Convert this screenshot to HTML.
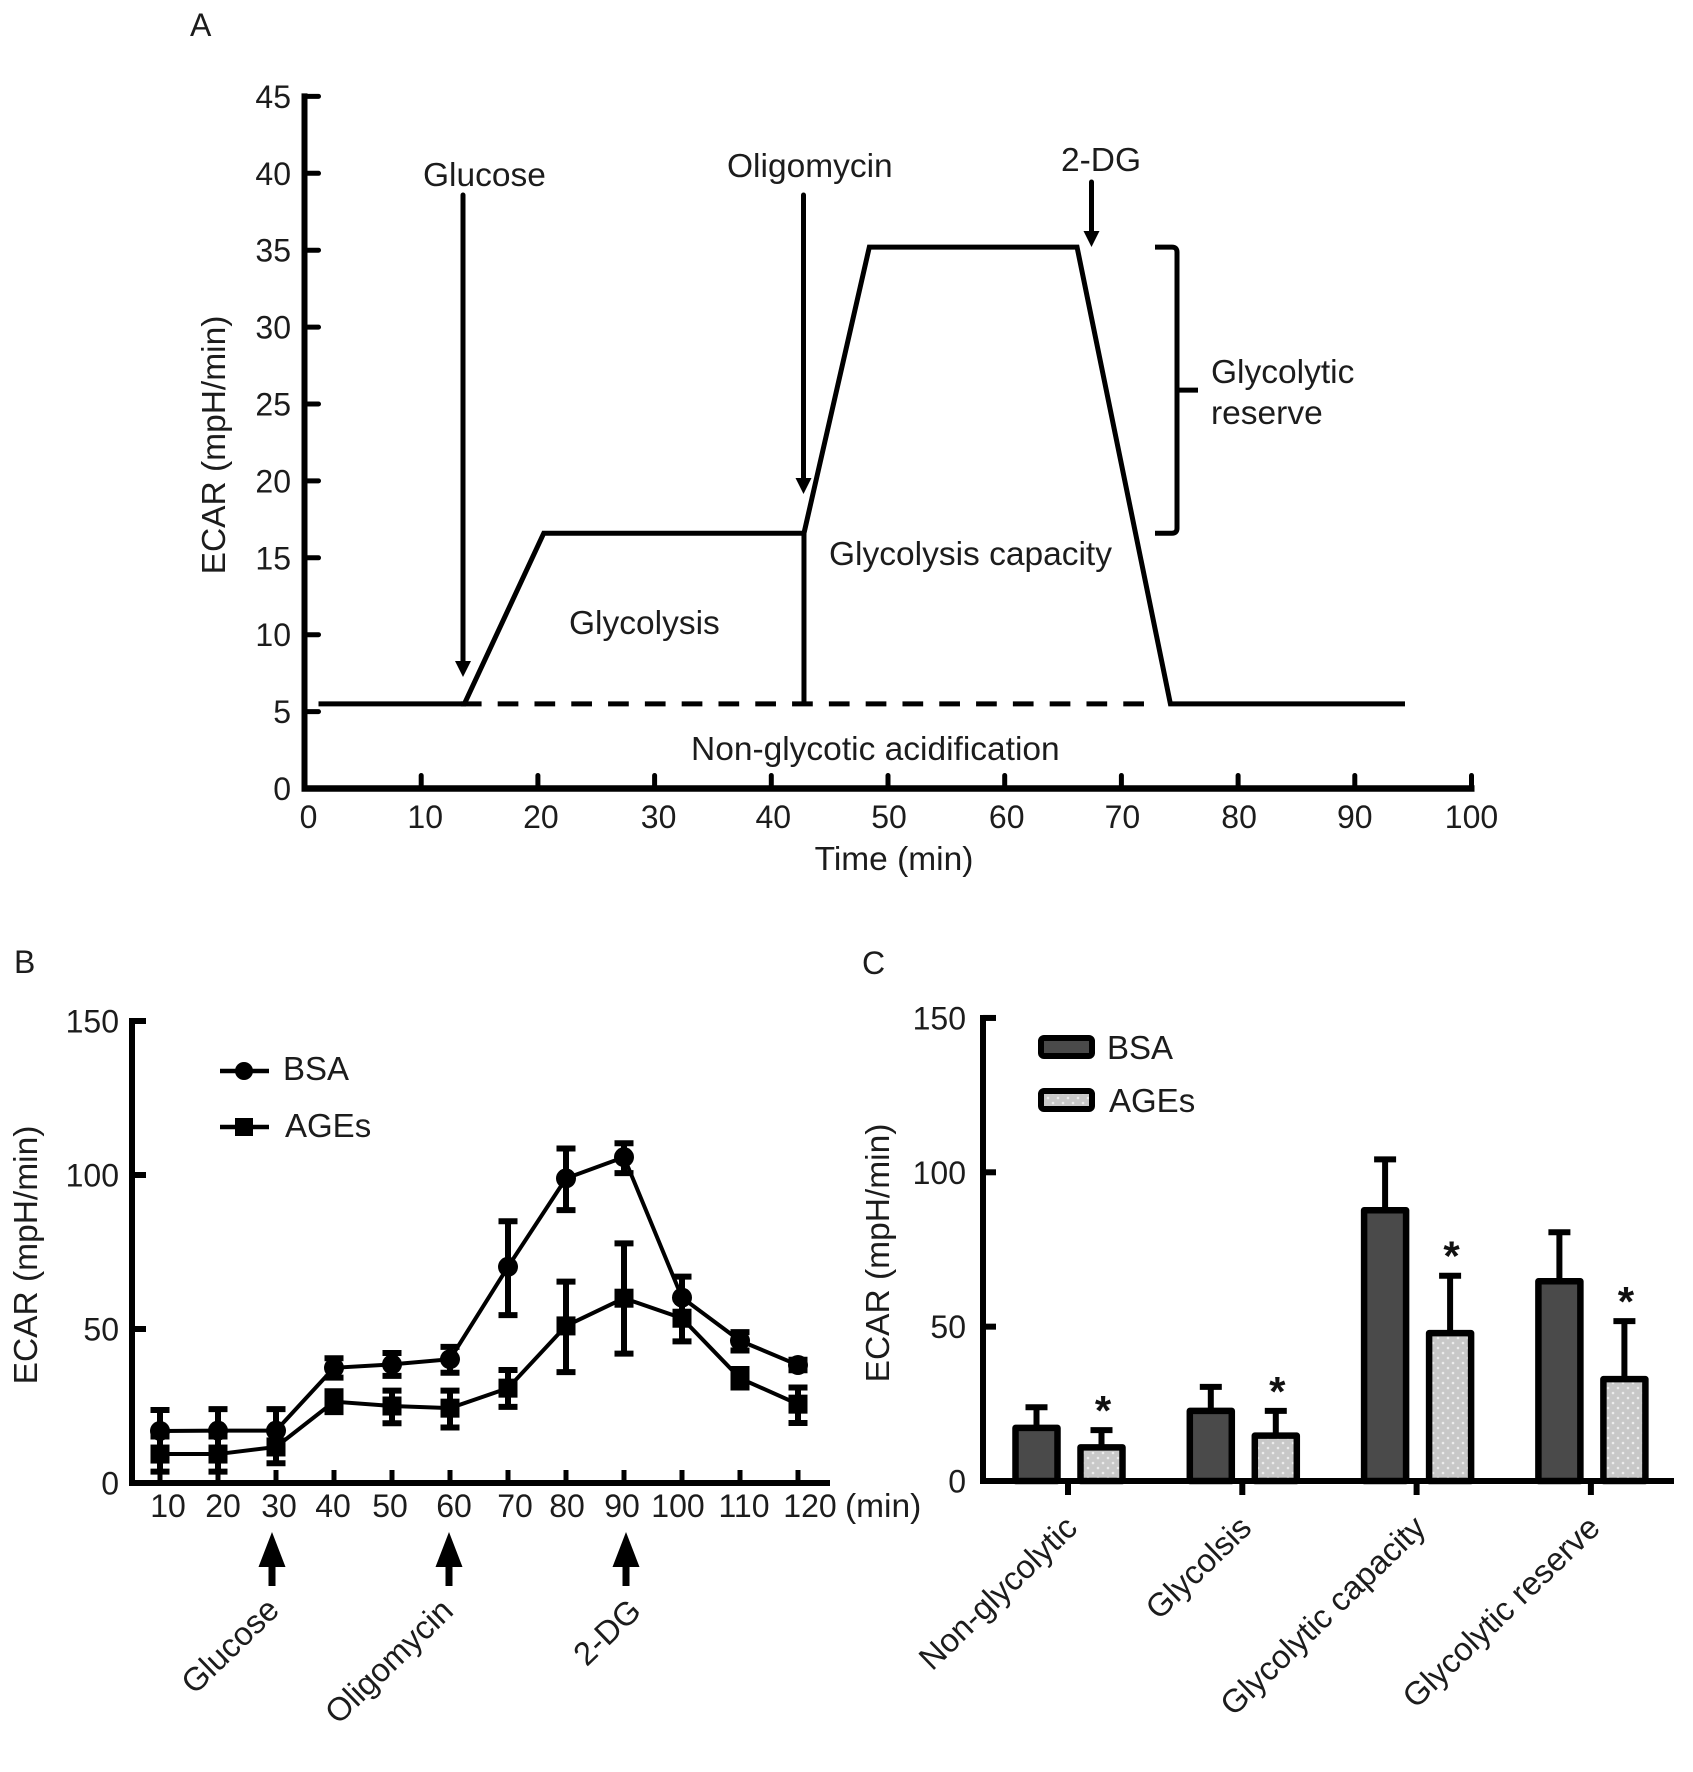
<!DOCTYPE html>
<html lang="en">
<head>
<meta charset="utf-8">
<title>ECAR glycolysis stress test figure</title>
<style>
  html, body { margin: 0; padding: 0; background: #fff; }
  svg { display: block; }
  text { font-family: "Liberation Sans", Arial, sans-serif; font-size: 32px; fill: #1c1c1c; }
  text.ann { font-size: 33.5px; }
  text.leg { font-size: 33px; }
  text.rot { font-size: 32.8px; }
</style>
</head>
<body>
<svg id="fig" xmlns="http://www.w3.org/2000/svg" width="1693" height="1772" viewBox="0 0 1693 1772">
  <defs>
    <pattern id="dots" width="10" height="10" patternUnits="userSpaceOnUse">
      <rect width="10" height="10" fill="#c8c8c8"/>
      <circle cx="3" cy="3" r="1.3" fill="#ececec"/>
      <circle cx="8" cy="8" r="1.3" fill="#ececec"/>
    </pattern>
  </defs>

  <!-- Panel letters -->
  <text x="190" y="36">A</text>
  <text x="14" y="973">B</text>
  <text x="862" y="974">C</text>

  <!-- Panel A groups -->
  <g id="panelA"></g>
  <text class="ann" transform="translate(225,445) rotate(-90)" text-anchor="middle">ECAR (mpH/min)</text>
  <text class="ann" x="894" y="870" text-anchor="middle">Time (min)</text>
  <text class="ann" x="423" y="186">Glucose</text>
  <text class="ann" x="727" y="177">Oligomycin</text>
  <text class="ann" x="1061" y="171">2-DG</text>
  <text class="ann" x="569" y="634">Glycolysis</text>
  <text class="ann" x="829" y="565">Glycolysis capacity</text>
  <text class="ann" x="691" y="760">Non-glycotic acidification</text>
  <text class="ann" x="1211" y="383">Glycolytic</text>
  <text class="ann" x="1211" y="424">reserve</text>

  <!-- Panel B groups -->
  <g id="panelB"></g>
  <text class="ann" transform="translate(37,1255) rotate(-90)" text-anchor="middle">ECAR (mpH/min)</text>
  <text class="ann" x="845" y="1517">(min)</text>
  <text class="rot" transform="translate(281,1612) rotate(-44)" text-anchor="end">Glucose</text>
  <text class="rot" transform="translate(455,1613) rotate(-44)" text-anchor="end">Oligomycin</text>
  <text class="rot" transform="translate(643,1613) rotate(-44)" text-anchor="end">2-DG</text>
  <g>
    <line x1="220" x2="269" y1="1071" y2="1071" stroke="#000" stroke-width="4.5"/>
    <circle cx="244" cy="1071" r="9" fill="#000"/>
    <text class="leg" x="283" y="1080">BSA</text>
    <line x1="220" x2="269" y1="1127" y2="1127" stroke="#000" stroke-width="4.5"/>
    <rect x="235" y="1118" width="18" height="18" fill="#000"/>
    <text class="leg" x="285" y="1137">AGEs</text>
  </g>

  <!-- Panel C groups -->
  <g id="panelC"></g>
  <text class="ann" transform="translate(889,1253) rotate(-90)" text-anchor="middle">ECAR (mpH/min)</text>
  <g>
    <rect x="1041" y="1038" width="51" height="18" rx="3" fill="#4a4a4a" stroke="#000" stroke-width="6"/>
    <text class="leg" x="1107" y="1059">BSA</text>
    <rect x="1041" y="1091" width="51" height="18" rx="3" fill="url(#dots)" stroke="#000" stroke-width="6"/>
    <text class="leg" x="1109" y="1112">AGEs</text>
  </g>
</svg>

<script>
/* ---------- Panel A data ---------- */
const traceTimes  = [1.2, 13.7, 20.5, 42.8, 48.4, 66.2, 74.2, 94.3];
const traceValues = [5.5, 5.5, 16.6, 16.6, 35.2, 35.2, 5.5, 5.5];
const baselineValue = 5.5;
const dashedStartTime = 13.4;
const dashedEndTime = 72.6;
const oligomycinTime = 42.8;
const aXTicks = [0, 10, 20, 30, 40, 50, 60, 70, 80, 90, 100];
const aYTicks = [0, 5, 10, 15, 20, 25, 30, 35, 40, 45];

/* ---------- Panel B data ---------- */
const bMinutes = [10, 20, 30, 40, 50, 60, 70, 80, 90, 100, 110, 120];
const bsaMean = [16.9, 17, 17, 37.4, 38.5, 40.2, 70.2, 98.9, 105.8, 60.2, 46.2, 38.3];
const bsaHigh = [23.7, 24, 24, 40.5, 42.2, 44.2, 85, 108.6, 110.3, 67, 49, 40];
const bsaLow  = [10.2, 10.5, 10.5, 34.2, 34.8, 35.8, 54.5, 88.6, 100.6, 53, 43, 36.6];
const agesMean = [9.4, 9.4, 11.7, 26.4, 25, 24.3, 30.8, 51, 60, 53.5, 34, 25.6];
const agesHigh = [15.1, 15.1, 17, 29.8, 30, 30, 36.7, 65.4, 77.8, 60, 37, 31];
const agesLow  = [3.7, 3.7, 6.4, 23, 19.4, 18, 24.7, 36, 42, 46, 31, 19.5];
const bYTicks = [0, 50, 100, 150];
const bTreatments = [30, 60, 90];

/* ---------- Panel C data ---------- */
const cCategories = ["Non-glycolytic", "Glycolsis", "Glycolytic capacity", "Glycolytic reserve"];
const cBsaMean = [17.2, 22.7, 87.7, 64.7];
const cBsaErrTop = [23.9, 30.5, 104.2, 80.6];
const cAgesMean = [10.9, 14.7, 47.9, 33];
const cAgesErrTop = [16.5, 22.7, 66.5, 51.8];
const cYTicks = [0, 50, 100, 150];

/* ---------- helpers ---------- */
const NS = "http://www.w3.org/2000/svg";
function add(parent, tag, attrs, txt) {
  const el = document.createElementNS(NS, tag);
  for (const k in attrs) el.setAttribute(k, attrs[k]);
  if (txt !== undefined) el.textContent = txt;
  parent.appendChild(el);
  return el;
}
function ln(parent, x1, y1, x2, y2, w, cap) {
  return add(parent, "line", {x1, y1, x2, y2, stroke: "#000", "stroke-width": w, "stroke-linecap": cap || "butt"});
}
function arrowDown(parent, x, y1, tip) {
  const g = add(parent, "g", {});
  ln(g, x, y1, x, tip - 10, 5, "round");
  add(g, "polygon", {points: `${x - 8},${tip - 16} ${x + 8},${tip - 16} ${x},${tip}`, fill: "#000"});
  return g;
}

/* ---------- Panel A ---------- */
(function () {
  const root = document.getElementById("panelA");
  const x = v => 304.5 + 11.67 * v;
  const y = v => 788.5 - 15.38 * v;
  const labelNudgeX = [4, 4, 3, 4, 2, 1, 2, 1, 1, 0, 0];

  const yAxis = ln(root, x(0), y(45) - 3, x(0), y(0) + 3, 6);
  
  
  const xAxis = ln(root, x(0) - 3, y(0), x(100) + 3, y(0), 6.5);
  
  

  aYTicks.forEach(v => {
    const t = ln(root, x(0), y(v), x(0) + 14, y(v), 5, "round");
    
    
    const l = add(root, "text", {x: 291, y: y(v) + 11.5, "text-anchor": "end"}, String(v));
    
    
  });
  aXTicks.forEach((v, i) => {
    if (v > 0) {
      const t = ln(root, x(v), y(0), x(v), y(0) - 13, 5, "round");
      
      
    }
    const l = add(root, "text", {x: x(v) + labelNudgeX[i], y: 828, "text-anchor": "middle"}, String(v));
    
    
  });

  const dashed = add(root, "line", {x1: x(dashedStartTime), x2: x(dashedEndTime), y1: y(baselineValue), y2: y(baselineValue),
    stroke: "#000", "stroke-width": 5, "stroke-dasharray": "20.7 16.1"});
  
  

  const drop = ln(root, x(oligomycinTime), y(traceValues[3]), x(oligomycinTime), y(baselineValue), 5);
  
  

  const trace = add(root, "polyline", {
    points: traceTimes.map((t, i) => x(t) + "," + y(traceValues[i])).join(" "),
    fill: "none", stroke: "#000", "stroke-width": 5, "stroke-linejoin": "miter"});
  
  

  const a1 = arrowDown(root, 463, 195, 677);
  
  
  const a2 = arrowDown(root, 803.5, 195, 494);
  
  
  const a3 = arrowDown(root, 1091.5, 182, 247);
  
  

  const top = y(traceValues[4]), bot = y(traceValues[3]), mid = (top + bot) / 2;
  const bracket = add(root, "path", {
    d: `M1155 ${top} H1172 Q1177 ${top} 1177 ${top + 5} V${bot - 5} Q1177 ${bot} 1172 ${bot} H1155 M1177 ${mid} H1198`,
    fill: "none", stroke: "#000", "stroke-width": 5});
  
  
})();

/* ---------- Panel B ---------- */
(function () {
  const root = document.getElementById("panelB");
  const x = v => 160 + 5.8 * (v - 10);
  const y = v => 1483 - 3.08 * v;
  const labelNudgeX = [8, 5, 3, -1, -2, 4, 7, 1, -2, -4, 4, 12];

  const yAxis = ln(root, 132, y(150) - 3, 132, y(0) + 3, 6);
  
  
  const xAxis = ln(root, 129, y(0), 830, y(0), 6);
  
  

  bYTicks.forEach(v => {
    const t = ln(root, 132, y(v), 146, y(v), 6);
    
    
    const l = add(root, "text", {x: 119, y: y(v) + 11.5, "text-anchor": "end"}, String(v));
    
    
  });
  bMinutes.forEach((v, i) => {
    const t = ln(root, x(v), y(0), x(v), y(0) - 13, 5);
    
    
    const l = add(root, "text", {x: x(v) + labelNudgeX[i], y: 1517, "text-anchor": "middle"}, String(v));
    
    
  });

  function drawSeries(mean, high, low, kind) {
    const line = add(root, "polyline", {
      points: bMinutes.map((m, i) => x(m) + "," + y(mean[i])).join(" "),
      fill: "none", stroke: "#000", "stroke-width": 4});
    
    
    bMinutes.forEach((m, i) => {
      const g = add(root, "g", {});
      
      
      ln(g, x(m), y(high[i]), x(m), y(low[i]), 6);
      ln(g, x(m) - 9.5, y(high[i]), x(m) + 9.5, y(high[i]), 6);
      ln(g, x(m) - 9.5, y(low[i]), x(m) + 9.5, y(low[i]), 6);
      let mark;
      if (kind === "bsa") {
        mark = add(root, "circle", {cx: x(m), cy: y(mean[i]), r: 10, fill: "#000"});
      } else {
        mark = add(root, "rect", {x: x(m) - 9.5, y: y(mean[i]) - 9.5, width: 19, height: 19, fill: "#000"});
      }
      
      
    });
  }
  drawSeries(bsaMean, bsaHigh, bsaLow, "bsa");
  drawSeries(agesMean, agesHigh, agesLow, "ages");

  const arrowX = v => 95 + 5.9 * v;
  bTreatments.forEach(v => {
    const ax = arrowX(v);
    const a = add(root, "path", {
      d: `M${ax} 1532 L${ax + 13.5} 1567 H${ax + 3.5} V1586 H${ax - 3.5} V1567 H${ax - 13.5} Z`, fill: "#000"});
    
    
  });
})();

/* ---------- Panel C ---------- */
(function () {
  const root = document.getElementById("panelC");
  const cx = i => 1069 + 174.3 * i;
  const y = v => 1481 - 3.087 * v;
  const barW = 42, offset = 32.5;

  cYTicks.forEach(v => {
    const t = ln(root, 983, y(v), 996, y(v), 6);
    
    
    const l = add(root, "text", {x: 966, y: y(v) + 11.5, "text-anchor": "end"}, String(v));
    
    
  });

  function bar(i, mean, top, dir, kind, fill) {
    const c = cx(i) + dir * offset;
    const err = add(root, "g", {});
    
    
    ln(err, c, y(top), c, y(mean), 6);
    ln(err, c - 11, y(top), c + 11, y(top), 6);
    const r = add(root, "rect", {x: c - barW / 2, y: y(mean), width: barW, height: y(0) - y(mean),
      fill: fill, stroke: "#000", "stroke-width": 6.5, "stroke-linejoin": "round"});
    
    
  }

  cCategories.forEach((name, i) => {
    bar(i, cBsaMean[i], cBsaErrTop[i], -1, "bsa", "#4a4a4a");
    bar(i, cAgesMean[i], cAgesErrTop[i], 1, "ages", "url(#dots)");

    const star = add(root, "text", {x: cx(i) + offset + 1.5, y: y(cAgesErrTop[i]) - 5,
      "text-anchor": "middle", style: "font-size:42px;font-weight:bold;fill:#111"}, "*");
    
    

    const t = ln(root, cx(i) - 1, y(0), cx(i) - 1, 1495, 6);
    
    

    const l = add(root, "text", {class: "rot", transform: `translate(${cx(i) + 10},1530) rotate(-44)`, "text-anchor": "end"}, name);
    
    
  });

  const yAxis = ln(root, 983, y(150) - 3, 983, y(0) + 3, 6);
  
  
  const xAxis = ln(root, 980, y(0), 1674, y(0), 6);
  
  
})();
</script>
</body>
</html>
